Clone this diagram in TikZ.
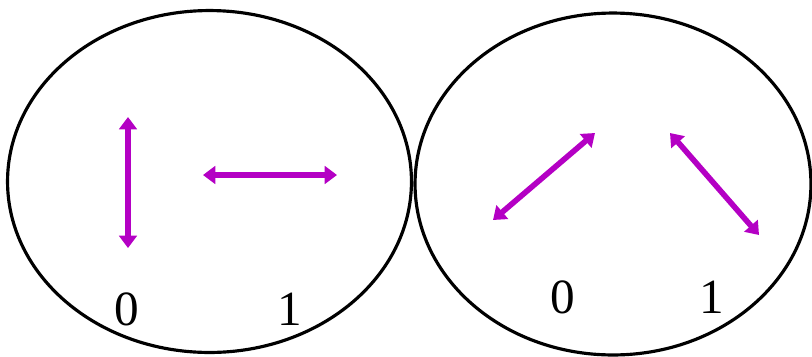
\documentclass[tikz,border=0pt]{standalone}
\usepackage{fontspec}
\setmainfont{Liberation Serif}
\usetikzlibrary{shapes.geometric,arrows.meta}
\definecolor{polStroke}{HTML}{B400C4}
\definecolor{lineMain}{HTML}{000000}

\begin{document}
\begin{tikzpicture}[
    x=0.02cm, y=-0.02cm,
    font=\fontsize{28}{32}\selectfont,
    basis/.style={
        ellipse, draw=lineMain, line width=1.8pt,
        inner sep=0pt
    },
    pol/.style={
        {Triangle[width=10pt,length=7pt]}-{Triangle[width=10pt,length=7pt]},
        draw=polStroke, line width=3.2pt
    },
    bit/.style={inner sep=0pt, text=lineMain}
]
\useasboundingbox (0,0) rectangle (812,356);

% the two bases, side by side
\node[basis, minimum width=8.08cm, minimum height=6.84cm] (Rect) at (209.5,181.5) {};
\node[basis, minimum width=7.92cm, minimum height=6.84cm] (Diag) at (613,184) {};

% rectilinear basis
\coordinate (VTop) at (128,117);
\coordinate (VBot) at (128,248);
\coordinate (HLeft) at (203,175);
\coordinate (HRight) at (337,175);
\draw[pol] (VTop) -- (VBot);
\draw[pol] (HLeft) -- (HRight);
\node[bit] (RectZero) at (127,309) {0};
\node[bit] (RectOne) at (290,309) {1};

% diagonal basis
\coordinate (DLow) at (493,220);
\coordinate (DHigh) at (595,133);
\coordinate (AHigh) at (670,133);
\coordinate (ALow) at (759,235);
\draw[pol] (DLow) -- (DHigh);
\draw[pol] (AHigh) -- (ALow);
\node[bit] (DiagZero) at (563,297) {0};
\node[bit] (DiagOne) at (712,297) {1};

\end{tikzpicture}
\end{document}
